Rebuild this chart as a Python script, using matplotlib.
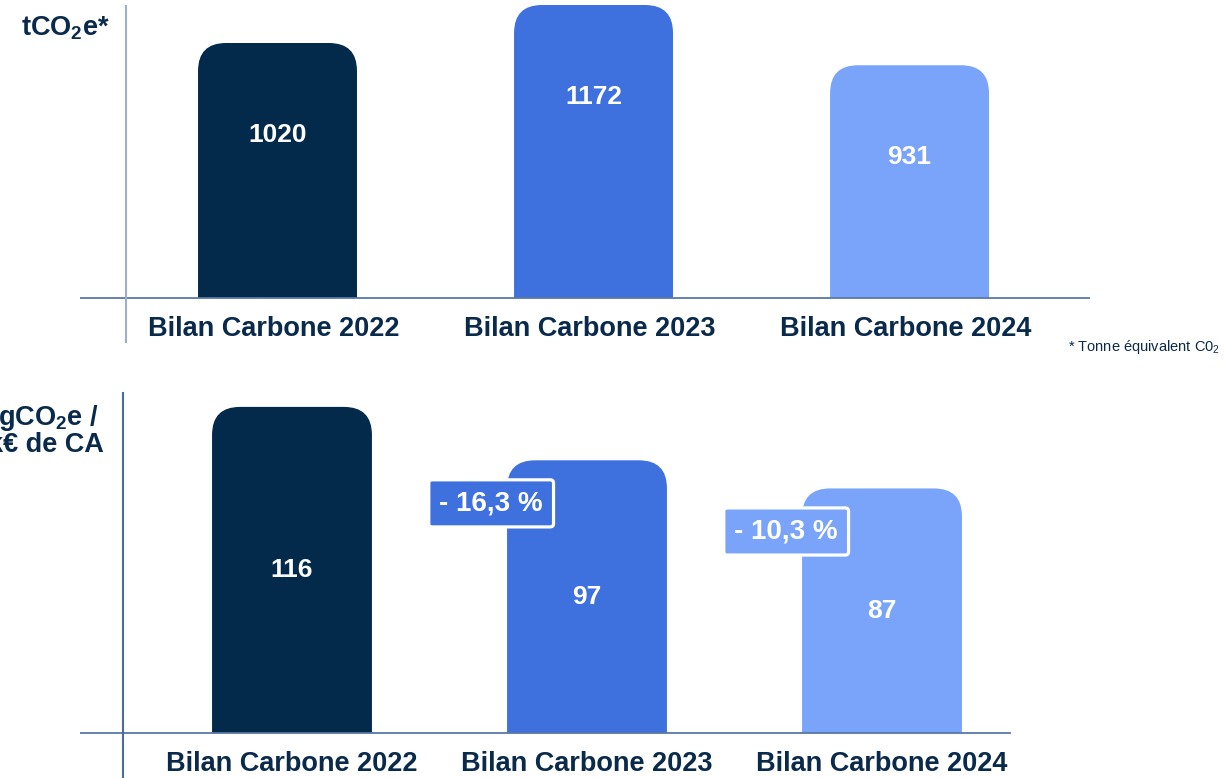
import matplotlib
matplotlib.use("Agg")
import matplotlib.pyplot as plt
from matplotlib.path import Path
from matplotlib.patches import PathPatch

# ---------------- data ----------------
categories = ["Bilan Carbone 2022", "Bilan Carbone 2023", "Bilan Carbone 2024"]
totals = [1020, 1172, 931]          # tCO2e
intensity = [116, 97, 87]           # kgCO2e / k€ de CA
changes = ["- 16,3 %", "- 10,3 %"]  # change vs previous year (2023, 2024)

# ---------------- style ----------------
plt.rcParams["font.family"] = ["Liberation Sans", "DejaVu Sans"]
plt.rcParams["mathtext.fontset"] = "custom"
plt.rcParams["mathtext.rm"] = "Liberation Sans"
plt.rcParams["mathtext.bf"] = "Liberation Sans:bold"

bar_colors = ["#03294B", "#3E70DE", "#79A4FA"]
navy = "#0A2A4C"
W, H = 1224, 778

fig = plt.figure(figsize=(W / 100, H / 100), dpi=100)


def round_top_bars(ax, bars, r_px, colors):
    p = ax.transData.transform([(0, 0), (1, 1)])
    sx = p[1, 0] - p[0, 0]
    sy = p[1, 1] - p[0, 1]
    rx, ry = r_px / sx, r_px / sy
    for rect, c in zip(bars, colors):
        x0 = rect.get_x()
        x1 = x0 + rect.get_width()
        h = rect.get_height()
        rect.remove()
        verts = [(x0, 0), (x0, h - ry), (x0, h), (x0 + rx, h), (x1 - rx, h),
                 (x1, h), (x1, h - ry), (x1, 0), (x0, 0)]
        codes = [Path.MOVETO, Path.LINETO, Path.CURVE3, Path.CURVE3, Path.LINETO,
                 Path.CURVE3, Path.CURVE3, Path.LINETO, Path.CLOSEPOLY]
        ax.add_patch(PathPatch(Path(verts, codes), facecolor=c, edgecolor="none",
                               clip_on=False, zorder=2))


def setup(ax, xlim, ylim):
    ax.set_xlim(*xlim)
    ax.set_ylim(*ylim)
    for s in ax.spines.values():
        s.set_visible(False)
    ax.set_xticks([])
    ax.set_yticks([])
    ax.patch.set_alpha(0)


xpos = [0, 1, 2]

# ---------------- top panel ----------------
ax1 = fig.add_axes([80 / W, 1 - 343 / H, 1010 / W, 338 / H])
setup(ax1, (-0.625, 2.571), (-180, 1172))
b1 = ax1.bar(xpos, totals, width=0.503)
round_top_bars(ax1, b1, 28, bar_colors)
ax1.axhline(0, xmin=0, xmax=1, color="#5A78A3", lw=1.3, zorder=3)
ax1.axvline(-0.479, ymin=0, ymax=1, color="#9DB0CB", lw=1.5, zorder=3)
for x, v in zip(xpos, totals):
    ax1.annotate(f"{v}", (x, v), xytext=(0, -66), textcoords="offset points",
                 ha="center", va="center", color="white", fontsize=19,
                 fontweight="bold", zorder=4)
for x, lab in zip(xpos, categories):
    ax1.annotate(lab, (x, 0), xytext=(-3, -22), textcoords="offset points",
                 ha="center", va="center", color=navy, fontsize=19.5,
                 fontweight="bold", annotation_clip=False)

# ---------------- bottom panel ----------------
ax2 = fig.add_axes([80 / W, 0, 1010 / W, (H - 392) / H])
setup(ax2, (-0.7186, 2.705), (-16.0, 121.3))
b2 = ax2.bar(xpos, intensity, width=0.542)
round_top_bars(ax2, b2, 28, bar_colors)
ax2.axhline(0, xmin=0, xmax=(1010 - 80) / 1010, color="#5A78A3", lw=1.3, zorder=3)
ax2.axvline(-0.573, ymin=0, ymax=1, color="#4D6C9C", lw=1.5, zorder=3)
for x, v in zip(xpos, intensity):
    ax2.text(x, v / 2, f"{v}", ha="center", va="center", color="white",
             fontsize=19, fontweight="bold", zorder=4)
for x, lab in zip(xpos, categories):
    ax2.annotate(lab, (x, 0), xytext=(0, -22), textcoords="offset points",
                 ha="center", va="center", color=navy, fontsize=19.5,
                 fontweight="bold", annotation_clip=False)
for x, v, txt, c in zip(xpos[1:], intensity[1:], changes, bar_colors[1:]):
    ax2.annotate(txt, (x, v), xytext=(-69, -31), textcoords="offset points",
                 ha="center", va="center", color="white", fontsize=20,
                 fontweight="bold", zorder=5,
                 bbox=dict(boxstyle="round,pad=0.38,rounding_size=0.12",
                           facecolor=c, edgecolor="white", linewidth=2.3))

# ---------------- titles / notes ----------------
fig.text(110 / W, 1 - 28 / H, r"tCO$_\mathbf{2}$e*", ha="right", va="center",
         color=navy, fontsize=19.5, fontweight="bold")
fig.text(99 / W, 1 - 418 / H, r"kgCO$_\mathbf{2}$e /", ha="right", va="center",
         color=navy, fontsize=19.5, fontweight="bold")
fig.text(104 / W, 1 - 445 / H, "k€ de CA", ha="right", va="center",
         color=navy, fontsize=19.5, fontweight="bold")
fig.text(1068 / W, 1 - 347 / H, r"* Tonne équivalent C0$_2$", ha="left",
         va="center", color=navy, fontsize=10.5)

fig.savefig("out.png", dpi=100)
